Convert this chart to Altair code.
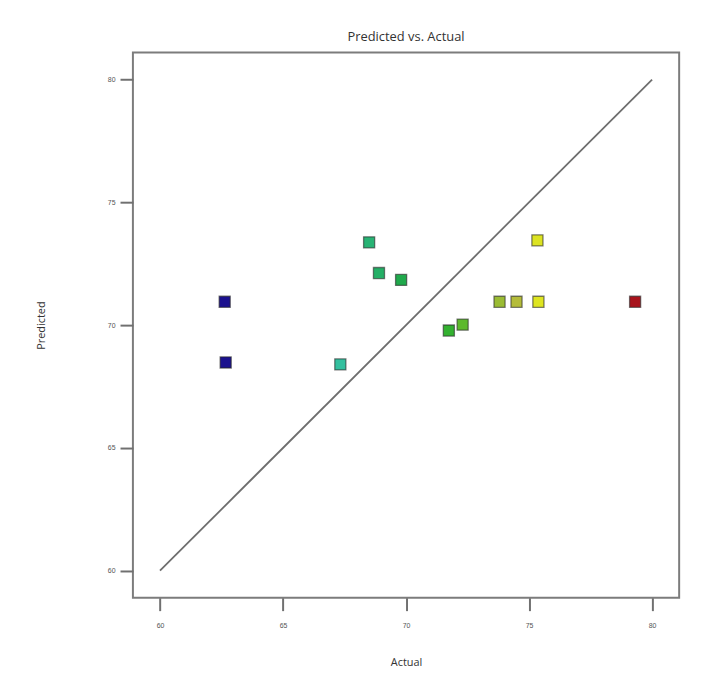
import altair as alt
import pandas as pd

# Data
actual = [62.63, 62.67, 67.33, 68.50, 68.90, 69.80, 71.74, 72.30, 73.80, 74.49, 75.38, 75.34, 79.31]
predicted = [70.95, 68.48, 68.40, 73.37, 72.12, 71.84, 69.78, 70.02, 70.95, 70.95, 70.95, 73.45, 70.95]
line_x = [60, 80]
line_y = [60, 80]
ticks = [60, 65, 70, 75, 80]

pts = pd.DataFrame({"Actual": actual, "Predicted": predicted})
diag = pd.DataFrame({"Actual": line_x, "Predicted": line_y})

dom = [58.9, 81.1]
xs = alt.Scale(domain=dom, nice=False, zero=False)
ys = alt.Scale(domain=dom, nice=False, zero=False)

axis_common = dict(
    values=ticks, domain=False, grid=False, tickSize=13, tickColor="#707070",
    tickWidth=2, labelFontSize=7, labelColor="#555555", labelFont="Liberation Sans",
    titleFont="Open Sans", titleFontSize=11, titleColor="#333333", titleFontWeight="normal",
)

line = alt.Chart(diag).mark_line(color="#6e6e6e", strokeWidth=1.8).encode(
    x=alt.X("Actual:Q", scale=xs, axis=alt.Axis(labelPadding=11, titlePadding=28, **axis_common)),
    y=alt.Y("Predicted:Q", scale=ys, axis=alt.Axis(labelPadding=5, titlePadding=61, **axis_common)),
)

color_scale = alt.Scale(
    domain=[62.6, 67.3, 69.5, 71.7, 72.5, 74.5, 75.4, 79.3],
    range=["#1b0f8e", "#33c0a0", "#1ea850", "#30b030", "#6cbc2a", "#b4bc3a", "#dfe620", "#a8141c"],
    interpolate="rgb",
)

points = alt.Chart(pts).mark_point(
    shape="square", filled=True, size=125, stroke="#2a2a2a", strokeWidth=1.3,
    strokeOpacity=0.6, fillOpacity=1,
).encode(
    x=alt.X("Actual:Q", scale=xs),
    y=alt.Y("Predicted:Q", scale=ys),
    fill=alt.Fill("Actual:Q", scale=color_scale, legend=None),
)

chart = (line + points).properties(
    width=551, height=550,
    title=alt.TitleParams("Predicted vs. Actual", fontSize=13, font="Open Sans",
                          fontWeight="normal", color="#333333", offset=9, anchor="middle"),
    autosize=alt.AutoSizeParams(type="none"),
    padding={"left": 126, "top": 42, "right": 18, "bottom": 70},
).configure(background="white").configure_view(stroke="#7c7c7c", strokeWidth=2)

chart.save("out.html", embed_options={"renderer": "svg", "actions": False})
